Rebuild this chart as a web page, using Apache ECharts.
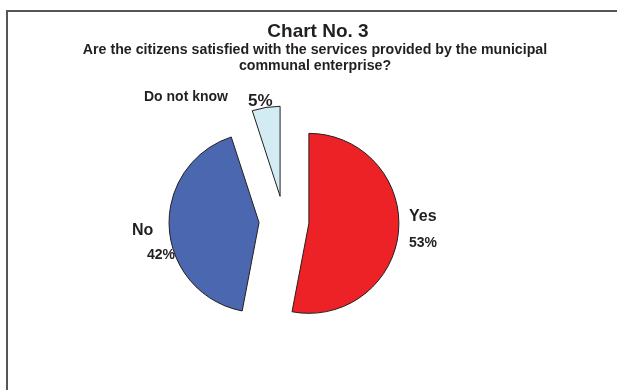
<!DOCTYPE html>
<html>
<head>
<meta charset="utf-8">
<script src="https://cdn.jsdelivr.net/npm/echarts@6/dist/echarts.min.js"></script>
<style>
  html, body { margin: 0; padding: 0; background: #fff; }
  #chart { width: 617px; height: 390px; }
</style>
</head>
<body>
<div id="chart"></div>
<script>
// Survey answers and their shares (percent)
const categories = ['Yes', 'No', 'Do not know'];
const shares = [53, 42, 5];
const sliceColors = ['#EC2227', '#4A67AF', '#D3ECF3'];

const titleText = 'Chart No. 3';
const subtitleLines = [
  'Are the citizens satisfied with the services provided by the municipal',
  'communal enterprise?'
];

// Where each slice label sits (top-left corner of the label block)
const labelAnchors = {
  'Yes': [409, 207],
  'No': [132, 221],
  'Do not know': [144, 87]
};

const FONT = 'Liberation Sans, Arial, Helvetica, sans-serif';
const INK = '#231F20';
const PIE_CENTER = [284, 221];
const PIE_RADIUS = 90;

const chart = echarts.init(document.getElementById('chart'), null, { renderer: 'canvas' });

const labelRich = {
  n: { fontFamily: FONT, fontWeight: 'bold', fontSize: 16, color: INK, lineHeight: 20 },
  p: { fontFamily: FONT, fontWeight: 'bold', fontSize: 14, color: INK, lineHeight: 32 },
  pn: { fontFamily: FONT, fontWeight: 'bold', fontSize: 14, color: INK, lineHeight: 29, padding: [0, 0, 0, 15] },
  dk: { fontFamily: FONT, fontWeight: 'bold', fontSize: 14, color: INK, lineHeight: 16 },
  dp: { fontFamily: FONT, fontWeight: 'bold', fontSize: 17, color: INK, lineHeight: 20, padding: [8, 0, 0, 20] }
};

function labelFormatter(params) {
  if (params.name === 'Do not know') {
    return '{dk|' + params.name + '}{dp|' + params.value + '%}';
  }
  if (params.name === 'No') {
    return '{n|' + params.name + '}\n{pn|' + params.value + '%}';
  }
  return '{n|' + params.name + '}\n{p|' + params.value + '%}';
}

const pieData = categories.map(function (name, i) {
  return { name: name, value: shares[i] };
});

chart.setOption({
  animation: false,
  backgroundColor: '#ffffff',
  graphic: [
    {
      type: 'rect',
      silent: true,
      shape: { x: 7, y: 11, width: 700, height: 500 },
      style: { fill: 'none', stroke: '#555555', lineWidth: 2 }
    },
    {
      type: 'text',
      silent: true,
      x: 318, y: 22,
      style: {
        text: titleText, fontFamily: FONT, fontWeight: 'bold', fontSize: 19,
        fill: INK, align: 'center', verticalAlign: 'top'
      }
    },
    {
      type: 'text',
      silent: true,
      x: 315, y: 42,
      style: {
        text: subtitleLines.join('\n'), fontFamily: FONT, fontWeight: 'bold', fontSize: 14.2,
        lineHeight: 16, fill: INK, align: 'center', verticalAlign: 'top'
      }
    }
  ],
  series: [
    // Exploded slices
    {
      type: 'pie',
      center: PIE_CENTER,
      radius: PIE_RADIUS,
      startAngle: 90,
      clockwise: true,
      silent: true,
      selectedMode: 'multiple',
      selectedOffset: 25,
      itemStyle: { borderColor: '#231F20', borderWidth: 1 },
      emphasis: { disabled: true },
      select: { itemStyle: { borderColor: '#231F20', borderWidth: 1 } },
      label: { show: false },
      labelLine: { show: false },
      data: pieData.map(function (d, i) {
        return { name: d.name, value: d.value, selected: true, itemStyle: { color: sliceColors[i] } };
      })
    },
    // Category / percentage labels for the same slices
    {
      type: 'pie',
      center: PIE_CENTER,
      radius: PIE_RADIUS,
      startAngle: 90,
      clockwise: true,
      silent: true,
      z: 3,
      avoidLabelOverlap: false,
      itemStyle: { color: 'rgba(0,0,0,0)', borderWidth: 0 },
      emphasis: { disabled: true },
      labelLine: { show: false },
      label: {
        show: true,
        position: 'outside',
        formatter: labelFormatter,
        rich: labelRich
      },
      labelLayout: function (params) {
        const pos = labelAnchors[categories[params.dataIndex]];
        return { x: pos[0], y: pos[1], align: 'left', verticalAlign: 'top', hideOverlap: false };
      },
      data: pieData
    }
  ]
});
</script>
</body>
</html>
